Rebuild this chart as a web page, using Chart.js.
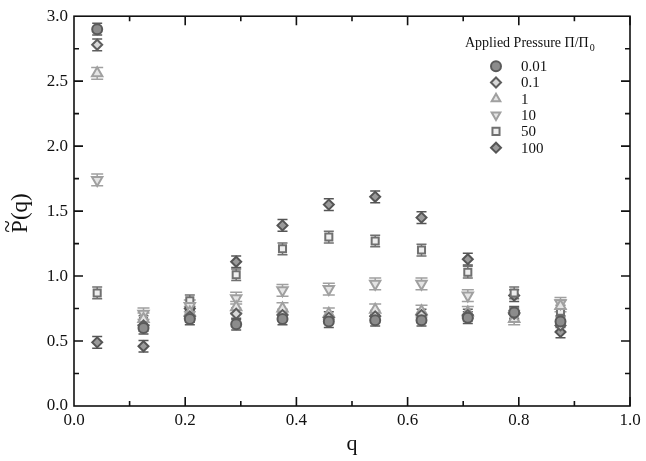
<!DOCTYPE html>
<html>
<head>
<meta charset="utf-8">
<script src="https://cdn.jsdelivr.net/npm/chart.js@4.4.0/dist/chart.umd.min.js"></script>
<style>
  html, body { margin: 0; padding: 0; background: #fff; }
  #wrap { width: 646px; height: 461px; }
</style>
</head>
<body>
<div id="wrap"><canvas id="pq"></canvas></div>
<script>
// q positions (bin centres)
const qValues = [0.0417, 0.125, 0.2083, 0.2917, 0.375, 0.4583, 0.5417, 0.625, 0.7083, 0.7917, 0.875];
const pressureLabels = ['0.01', '0.1', '1', '10', '50', '100'];

// P~(q) for each applied pressure
const p001 = [2.90, 0.60, 0.67, 0.63, 0.67, 0.65, 0.66, 0.66, 0.68, 0.72, 0.65];
const p01  = [2.78, 0.62, 0.69, 0.71, 0.70, 0.68, 0.69, 0.70, 0.70, 0.71, 0.62];
const p1   = [2.56, 0.67, 0.72, 0.76, 0.75, 0.71, 0.74, 0.73, 0.72, 0.67, 0.77];
const p10  = [1.74, 0.71, 0.77, 0.83, 0.89, 0.90, 0.94, 0.94, 0.85, 0.69, 0.79];
const p50  = [0.87, 0.65, 0.81, 1.01, 1.21, 1.30, 1.27, 1.20, 1.03, 0.87, 0.73];
const p100 = [0.49, 0.46, 0.75, 1.11, 1.39, 1.55, 1.61, 1.45, 1.13, 0.85, 0.57];

const xTicks = [0.0, 0.2, 0.4, 0.6, 0.8, 1.0];
const yTicks = [0.0, 0.5, 1.0, 1.5, 2.0, 2.5, 3.0];
const errBar = 0.045;

const serif = "'Liberation Serif', 'DejaVu Serif', serif";

function series(vals) {
    return vals.map((v, i) => ({ x: qValues[i], y: v }));
}

const styles = [
    { pointStyle: 'circle',   rot: 0,   fill: '#8c8c8c', line: '#5a5a5a', r: 5 },
    { pointStyle: 'rectRot',  rot: 0,   fill: '#d8d8d8', line: '#5e5e5e', r: 5 },
    { pointStyle: 'triangle', rot: 0,   fill: '#e4e4e4', line: '#a0a0a0', r: 6 },
    { pointStyle: 'triangle', rot: 180, fill: '#e4e4e4', line: '#a0a0a0', r: 6 },
    { pointStyle: 'rect',     rot: 0,   fill: '#eeeeee', line: '#707070', r: 5 },
    { pointStyle: 'rectRot',  rot: 0,   fill: '#9a9a9a', line: '#555555', r: 5 },
];
const allSeries = [p001, p01, p1, p10, p50, p100];

const datasets = allSeries.map((vals, k) => ({
    label: pressureLabels[k],
    data: series(vals),
    pointStyle: styles[k].pointStyle,
    pointRotation: styles[k].rot,
    backgroundColor: styles[k].fill,
    borderColor: styles[k].line,
    pointBorderWidth: 2,
    pointRadius: styles[k].r,
    showLine: false,
}));

// small error caps above and below each point
const errorBars = {
    id: 'errorBars',
    beforeDatasetsDraw(chart) {
        const { ctx, scales: { x, y } } = chart;
        ctx.save();
        chart.data.datasets.forEach(ds => {
            ctx.strokeStyle = ds.borderColor;
            ctx.lineWidth = 1.5;
            ds.data.forEach(p => {
                const px = x.getPixelForValue(p.x);
                const top = y.getPixelForValue(p.y + errBar);
                const bot = y.getPixelForValue(p.y - errBar);
                const half = ds.pointRadius;
                ctx.beginPath();
                ctx.moveTo(px, top); ctx.lineTo(px, bot);
                ctx.moveTo(px - half, top); ctx.lineTo(px + half, top);
                ctx.moveTo(px - half, bot); ctx.lineTo(px + half, bot);
                ctx.stroke();
            });
        });
        ctx.restore();
    }
};

// boxed frame with inward ticks on all four sides, plus the y title
const frame = {
    id: 'frame',
    afterDraw(chart) {
        const { ctx, chartArea: a, scales: { x, y } } = chart;
        ctx.save();
        ctx.strokeStyle = '#111';
        ctx.lineWidth = 1.6;
        ctx.strokeRect(a.left, a.top, a.right - a.left, a.bottom - a.top);
        ctx.beginPath();
        for (let v = 0.1; v < 1.0; v += 0.1) {
            const px = x.getPixelForValue(v);
            const major = Math.round(v * 10) % 2 === 0;
            const len = major ? 9 : 5;
            ctx.moveTo(px, a.bottom); ctx.lineTo(px, a.bottom - len);
            ctx.moveTo(px, a.top); ctx.lineTo(px, a.top + len);
        }
        for (let v = 0.25; v < 3.0; v += 0.25) {
            const py = y.getPixelForValue(v);
            const major = Math.round(v * 4) % 2 === 0;
            const len = major ? 9 : 5;
            ctx.moveTo(a.left, py); ctx.lineTo(a.left + len, py);
            ctx.moveTo(a.right, py); ctx.lineTo(a.right - len, py);
        }
        ctx.stroke();

        // P~(q), rotated, with the tilde set over the P
        ctx.translate(19, (a.top + a.bottom) / 2 + 2);
        ctx.rotate(-Math.PI / 2);
        ctx.fillStyle = '#111';
        ctx.font = `23px ${serif}`;
        ctx.textBaseline = 'alphabetic';
        const txt = 'P(q)';
        const w = ctx.measureText(txt).width;
        const pw = ctx.measureText('P').width;
        ctx.fillText(txt, -w / 2, 8);
        ctx.textAlign = 'center';
        ctx.fillText('~', -w / 2 + pw / 2, -4);
        ctx.restore();
    }
};

// legend block inside the plot, top right
const pressureLegend = {
    id: 'pressureLegend',
    afterDraw(chart) {
        const { ctx, chartArea: a } = chart;
        const x0 = a.right - 165;
        const y0 = a.top + 27;
        ctx.save();
        ctx.fillStyle = '#111';
        ctx.textBaseline = 'middle';
        ctx.font = `14px ${serif}`;
        const title = 'Applied Pressure \u03A0/\u03A0';
        ctx.fillText(title, x0, y0);
        const w = ctx.measureText(title).width;
        ctx.font = `10px ${serif}`;
        ctx.fillText('0', x0 + w + 1, y0 + 5);
        ctx.font = `15px ${serif}`;
        chart.data.datasets.forEach((ds, k) => {
            const cy = y0 + 23 + k * 16.3;
            ctx.save();
            ctx.fillStyle = ds.backgroundColor;
            ctx.strokeStyle = ds.borderColor;
            ctx.lineWidth = 2;
            Chart.helpers.drawPoint(ctx, {
                pointStyle: ds.pointStyle,
                rotation: ds.pointRotation,
                radius: 5,
                borderWidth: 2,
            }, x0 + 31, cy);
            ctx.restore();
            ctx.fillStyle = '#111';
            ctx.fillText(ds.label, x0 + 56, cy + 1);
        });
        ctx.restore();
    }
};

new Chart(document.getElementById('pq'), {
    type: 'scatter',
    data: { datasets },
    options: {
        responsive: true,
        maintainAspectRatio: false,
        animation: false,
        layout: { padding: { left: 0, right: 16, top: 15, bottom: 0 } },
        plugins: { legend: { display: false }, tooltip: { enabled: false } },
        scales: {
            x: {
                type: 'linear', min: 0, max: 1,
                afterBuildTicks: s => { s.ticks = xTicks.map(v => ({ value: v })); },
                afterFit: s => { s.height = 55; },
                grid: { display: false, drawTicks: false },
                border: { display: false },
                ticks: {
                    padding: 4, color: '#111',
                    font: { family: serif, size: 17 },
                    callback: v => v.toFixed(1),
                },
                title: {
                    display: true, text: 'q', color: '#111', padding: { top: 0 },
                    font: { family: serif, size: 22 },
                },
            },
            y: {
                type: 'linear', min: 0, max: 3,
                afterBuildTicks: s => { s.ticks = yTicks.map(v => ({ value: v })); },
                afterFit: s => { s.width = 74; },
                grid: { display: false, drawTicks: false },
                border: { display: false },
                ticks: {
                    padding: 6, color: '#111',
                    font: { family: serif, size: 17 },
                    callback: v => v.toFixed(1),
                },
            },
        },
    },
    plugins: [errorBars, frame, pressureLegend],
});
</script>
</body>
</html>
